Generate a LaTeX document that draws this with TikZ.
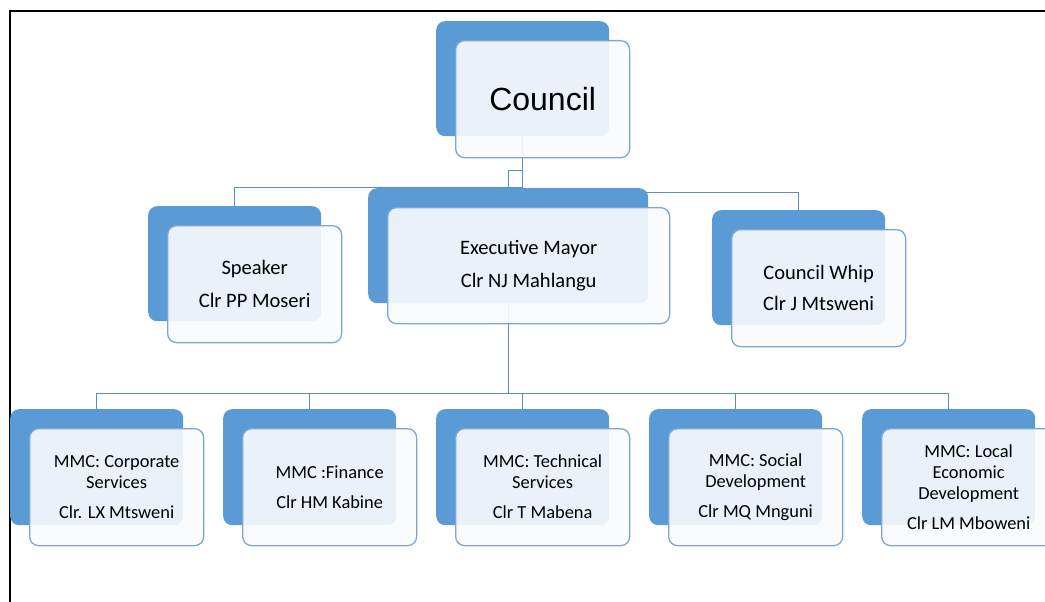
\documentclass[tikz,border=0pt]{standalone}
\usepackage{fontspec}
\setmainfont{Carlito}
\newfontfamily\arialf{Liberation Sans}
\usetikzlibrary{backgrounds}
\definecolor{backblue}{RGB}{91,155,213}
\definecolor{frontedge}{RGB}{125,166,216}
\definecolor{frontfill}{RGB}{250,251,252}
\definecolor{linkblue}{RGB}{92,142,202}
\tikzset{
 backbox/.style={rectangle, rounded corners=9pt, fill=backblue, draw=none, anchor=north west, minimum width=173pt, minimum height=115pt, inner sep=0pt},
 frontbox/.style={rectangle, rounded corners=9pt, fill=frontfill, fill opacity=0.9, text opacity=1, draw=frontedge, line width=1.3pt, anchor=north west, minimum width=174pt, minimum height=117pt, inner sep=0pt, align=center, text=black},
 midtext/.style={font=\fontsize{20.5}{24}\selectfont},
 lowtext/.style={font=\fontsize{18.4}{21}\selectfont},
 link/.style={draw=linkblue, line width=1.2pt},
 frame/.style={draw=black, line width=2pt},
}
\begin{document}
\begin{tikzpicture}[x=1pt,y=-1pt]
\useasboundingbox (0,0) rectangle (1045,602);
\clip (0,0) rectangle (1045,602);
\draw[frame] (9.6,602) -- (9.6,10.6) -- (1045,10.6);
% back boxes
\node[backbox] (cB) at (436,21) {};
\node[backbox] (sB) at (148,206) {};
\node[backbox, minimum width=280pt] (eB) at (368,188) {};
\node[backbox] (wB) at (712,210) {};
\node[backbox, minimum height=116pt] (m1B) at (10,409) {};
\node[backbox, minimum height=116pt] (m2B) at (223,409) {};
\node[backbox, minimum height=116pt] (m3B) at (436,409) {};
\node[backbox, minimum height=116pt] (m4B) at (649,409) {};
\node[backbox, minimum height=116pt] (m5B) at (862,409) {};
% connectors
\begin{pgfonlayer}{background}
\draw[link] (cB.south) -- ++(0,34) -| (eB.north);
\draw[link] (cB.south) -- ++(0,51) -| (sB.north);
\draw[link] (cB.south) -- ++(0,56) -| (wB.north);
\draw[link] (eB.south) -- ++(0,90) -| (m1B.north);
\draw[link] (eB.south) -- ++(0,90) -| (m2B.north);
\draw[link] (eB.south) -- ++(0,90) -| (m3B.north);
\draw[link] (eB.south) -- ++(0,90) -| (m4B.north);
\draw[link] (eB.south) -- ++(0,90) -| (m5B.north);
\end{pgfonlayer}
% front boxes
\node[frontbox, font=\arialf\fontsize{32}{36}\selectfont] (c) at (455,40) {Council};
\node[frontbox, midtext] (s) at (167,225) {Speaker\\[9pt]Clr PP Moseri};
\node[frontbox, midtext, minimum width=282pt, minimum height=116pt] (e) at (387,207) {Executive Mayor\\[9pt]Clr NJ Mahlangu};
\node[frontbox, midtext] (w) at (731,229) {Council Whip\\[7pt]Clr J Mtsweni};
\node[frontbox, lowtext] (m1) at (29,428) {MMC: Corporate\\Services\\[9pt]Clr. LX Mtsweni};
\node[frontbox, lowtext] (m2) at (242,428) {MMC :Finance\\[9pt]Clr HM Kabine};
\node[frontbox, lowtext] (m3) at (455,428) {MMC: Technical\\Services\\[9pt]Clr T Mabena};
\node[frontbox, lowtext] (m4) at (668,428) {MMC: Social\\Development\\[9pt]Clr MQ Mnguni};
\node[frontbox, lowtext] (m5) at (881,428) {MMC: Local\\Economic\\Development\\[9pt]Clr LM Mboweni};
\end{tikzpicture}
\end{document}
